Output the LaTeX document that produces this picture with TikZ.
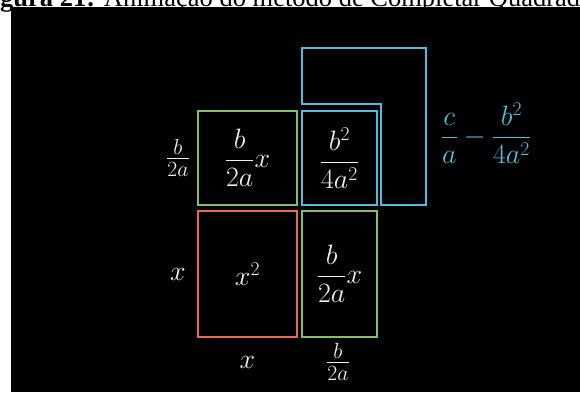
\RequirePackage{fix-cm}
\documentclass[tikz,border=0pt]{standalone}
\usepackage{fontspec}
\newfontfamily\capfont{Liberation Serif}
\definecolor{mgreen}{HTML}{83C167}
\definecolor{mred}{HTML}{EC6650}
\definecolor{mblue}{HTML}{55BBDB}
\definecolor{mtext}{HTML}{F0F0F0}
\tikzset{
  sq/.style={draw, line width=2.4pt, inner sep=0pt, text=mtext, font=\fontsize{28}{34}\selectfont},
  lbl/.style={inner sep=0pt, text=mtext, font=\fontsize{28}{34}\selectfont},
  fraclbl/.style={inner sep=0pt, text=mtext, font=\fontsize{31}{36}\selectfont},
}
\begin{document}
\begin{tikzpicture}[x=1pt,y=-1pt]
\useasboundingbox (0,0) rectangle (580,392);
\clip (0,0) rectangle (580,392);
\node[anchor=base west, inner sep=0pt, font=\capfont\fontsize{26.5}{30}\selectfont] (cap) at (0,6)
  {\llap{\bfseries Fi}\textbf{gura 21:} Animação do método de Completar Quadrado};
\fill[black] (11,7) rectangle (580,392);
% blue L shape
\draw[mblue, line width=2.4pt, line join=miter]
  (302,48) -- (426,48) -- (426,205) -- (381,205) -- (381,104) -- (302,104) -- cycle;
% squares
\node[sq, draw=mgreen, minimum width=99pt, minimum height=94pt] (tl) at (247.5,158)
  {$\displaystyle\frac{b}{2a}x$};
\node[sq, draw=mblue, minimum width=75pt, minimum height=94pt] (tr) at (339.5,158)
  {$\displaystyle\frac{b^2}{4a^2}$};
\node[sq, draw=mred, minimum width=99pt, minimum height=126pt] (bl) at (247.5,274)
  {$x^2$};
\node[sq, draw=mgreen, minimum width=75pt, minimum height=126pt] (br) at (339.5,274)
  {$\displaystyle\frac{b}{2a}x$};
% side labels
\node[fraclbl] (l1) at (178,158) {$\frac{b}{2a}$};
\node[lbl] (l2) at (178,274) {$x$};
\node[lbl] (b1) at (247.5,362) {$x$};
\node[fraclbl] (b2) at (338,362) {$\frac{b}{2a}$};
\node[lbl, text=mblue] (cb) at (486,133) {$\displaystyle\frac{c}{a}-\frac{b^2}{4a^2}$};
\end{tikzpicture}
\end{document}
